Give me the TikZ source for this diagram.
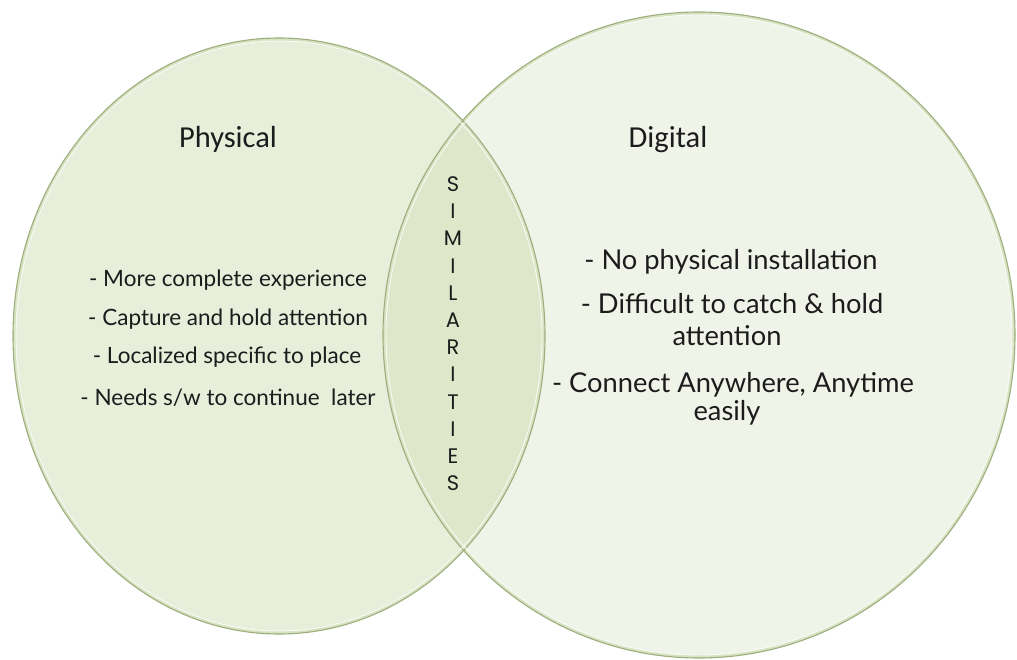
\documentclass[tikz,border=0pt]{standalone}
\usepackage{fontspec}
\setmainfont{Lato}
\newfontfamily\titlefont{Carlito}
\newfontfamily\simfont{Poppins}
\definecolor{leftfill}{RGB}{231,238,218}
\definecolor{rightfill}{RGB}{239,243,232}
\definecolor{lensfill}{RGB}{222,231,201}
\definecolor{rimcol}{RGB}{158,174,126}
\definecolor{rimlight}{RGB}{216,227,194}
\definecolor{txt}{RGB}{28,28,28}
\begin{document}
\begin{tikzpicture}[x=1pt,y=-1pt,
  rim/.style={draw=rimcol, line width=1.1pt},
  rimsoft/.style={draw=rimlight, line width=3pt},
  shine/.style={draw=white, line width=0.9pt, opacity=0.85},
  title/.style={font=\titlefont\fontsize{30.5}{32}\selectfont, text=txt, anchor=base, inner sep=0pt},
  leftitem/.style={font=\fontsize{22.5}{26}\selectfont, text=txt, anchor=base, inner sep=0pt},
  rightitem/.style={font=\fontsize{27.3}{30}\selectfont, text=txt, anchor=base, inner sep=0pt},
  simletter/.style={font=\simfont\fontsize{21}{22}\selectfont, text=txt, anchor=base, inner sep=0pt}
]
\useasboundingbox (0,0) rectangle (1017,660);
% fills
\fill[white] (0,0) rectangle (1017,660);
\fill[leftfill] (279,336) ellipse [x radius=266, y radius=298];
\fill[rightfill] (699,335) ellipse [x radius=316, y radius=323];
\begin{scope}
  \clip (279,336) ellipse [x radius=266, y radius=298];
  \fill[lensfill] (699,335) ellipse [x radius=316, y radius=323];
\end{scope}
% rims
\draw[rimsoft] (279,336) ellipse [x radius=264.5, y radius=296.5];
\draw[rimsoft] (699,335) ellipse [x radius=314.5, y radius=321.5];
\draw[rim] (279,336) ellipse [x radius=266, y radius=298];
\draw[rim] (699,335) ellipse [x radius=316, y radius=323];
\draw[shine] (279,336) ellipse [x radius=263, y radius=295];
\draw[shine] (699,335) ellipse [x radius=313, y radius=320];
% titles
\node[title] (physical) at (228,148) {Physical};
\node[title] (digital) at (668,148) {Digital};
% left list
\node[leftitem] (l1) at (228,287) {- More complete experience};
\node[leftitem] (l2) at (228,325) {- Capture and hold attention};
\node[leftitem] (l3) at (227,363) {- Localized specific to place};
\node[leftitem] (l4) at (228,405) {- Needs s/w to continue\ \ later};
% right list
\node[rightitem] (r1) at (731,270) {- No physical installation};
\node[rightitem] (r2) at (732,313) {- Difficult to catch \& hold};
\node[rightitem] (r3) at (727,345) {attention};
\node[rightitem] (r4) at (733,392) {- Connect Anywhere, Anytime};
\node[rightitem] (r5) at (727,420) {easily};
% similarities
\foreach \ch [count=\i] in {S,I,M,I,L,A,R,I,T,I,E,S} {
  \node[simletter] (sim\i) at (453,{191.5+27.2*(\i-1)}) {\ch};
}
\end{tikzpicture}
\end{document}
